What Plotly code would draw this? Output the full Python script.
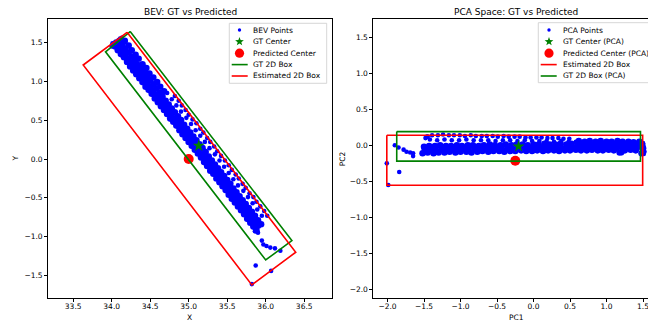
import math
import plotly.graph_objects as go

W, H = 648, 327

# ---------------- BEV data (X, Y) ----------------
bev_band1_x = [34.04,34.08,34.12,34.16,34.20,34.24,34.28,34.32,34.36,34.40,34.44,34.48,34.52,34.56,34.60,34.64,34.68,34.72,34.76,34.80,34.84,34.88,34.92,34.96,35.00,35.04,35.08,35.12,35.16,35.20,35.24,35.28,35.32,35.36,35.40,35.44,35.48,35.52,35.56,35.60,35.64,35.68,35.72,35.76,35.80,35.84,35.88]
bev_band1_y = [1.45,1.40,1.35,1.31,1.25,1.19,1.14,1.09,1.04,0.99,0.93,0.89,0.84,0.78,0.73,0.68,0.63,0.58,0.52,0.48,0.43,0.37,0.32,0.27,0.22,0.17,0.12,0.07,0.02,-0.04,-0.09,-0.15,-0.19,-0.25,-0.30,-0.35,-0.40,-0.46,-0.51,-0.56,-0.61,-0.66,-0.71,-0.77,-0.82,-0.87,-0.92]
bev_band2_x = [34.06,34.10,34.14,34.18,34.22,34.26,34.30,34.34,34.38,34.42,34.46,34.50,34.54,34.58,34.62,34.66,34.70,34.74,34.78,34.82,34.86,34.90,34.94,34.98,35.02,35.06,35.10,35.14,35.18,35.22,35.26,35.30,35.34,35.38,35.42,35.46,35.50,35.54,35.58,35.62,35.66,35.70,35.74,35.78,35.82,35.86,35.90]
bev_band2_y = [1.50,1.45,1.40,1.34,1.29,1.24,1.19,1.14,1.09,1.04,0.99,0.93,0.88,0.83,0.78,0.73,0.68,0.63,0.58,0.52,0.47,0.42,0.37,0.32,0.27,0.22,0.17,0.12,0.06,0.01,-0.04,-0.09,-0.14,-0.19,-0.24,-0.30,-0.35,-0.40,-0.45,-0.50,-0.55,-0.60,-0.65,-0.71,-0.76,-0.81,-0.86]
bev_band3_x = [34.10,34.14,34.18,34.22,34.26,34.30,34.34,34.38,34.42,34.46,34.50,34.54,34.58,34.62,34.66,34.70,34.74,34.78,34.82,34.86,34.90,34.94,34.98,35.02,35.06,35.10,35.14,35.18,35.22,35.26,35.30,35.34,35.38,35.42,35.46,35.50,35.54,35.58,35.62,35.66,35.70,35.74,35.78,35.82,35.86,35.90,35.94]
bev_band3_y = [1.52,1.47,1.42,1.37,1.32,1.26,1.21,1.16,1.11,1.06,1.01,0.96,0.91,0.85,0.80,0.75,0.70,0.65,0.60,0.55,0.50,0.44,0.39,0.34,0.29,0.24,0.19,0.14,0.09,0.03,-0.02,-0.07,-0.12,-0.17,-0.22,-0.27,-0.32,-0.38,-0.43,-0.48,-0.53,-0.58,-0.63,-0.68,-0.73,-0.79,-0.84]
bev_upper_x = [34.68,34.63,34.59,34.54,34.49,34.45,34.40,34.35,34.31,34.26,34.22,34.17]
bev_upper_y = [0.87,0.93,0.99,1.05,1.10,1.17,1.22,1.29,1.34,1.40,1.46,1.52]
bev_ring_x = [35.95,35.89,35.83,35.77,35.71,35.64,35.58,35.52,35.46,35.40,35.34,35.27,35.21,35.15,35.09,35.03,34.97,34.90,34.84,34.78,34.72]
bev_ring_y = [-0.73,-0.65,-0.57,-0.49,-0.41,-0.34,-0.26,-0.18,-0.10,-0.02,0.06,0.14,0.22,0.30,0.37,0.45,0.53,0.61,0.69,0.77,0.85]
bev_top_x = [36.02,35.98,35.93,35.88,35.84,35.79,35.74,35.70,35.65,35.61,35.56,35.52,35.47,35.42,35.37,35.33,35.28,35.24,35.19,35.15,35.10,35.05,35.00,34.96,34.91,34.87,34.82]
bev_top_y = [-0.73,-0.67,-0.61,-0.55,-0.49,-0.44,-0.37,-0.32,-0.25,-0.20,-0.14,-0.08,-0.02,0.04,0.10,0.16,0.22,0.27,0.34,0.39,0.46,0.51,0.57,0.63,0.69,0.75,0.81]
bev_outlier_x = [35.95,35.97,36.01,36.06,36.12,36.19,35.87,36.07,35.82,34.00,34.01,34.11,34.13,35.86,35.90]
bev_outlier_y = [-1.05,-1.10,-1.12,-1.14,-1.15,-1.18,-1.37,-1.44,-1.61,1.45,1.49,1.55,1.56,-0.93,-0.95]

bev_gt_center = (35.13, 0.17)
bev_pred_center = (35.00, 0.00)
bev_gt_box_x = [34.24, 36.34, 36.00, 33.92, 34.24]
bev_gt_box_y = [1.64, -1.05, -1.30, 1.38, 1.64]
bev_est_box_x = [34.20, 36.39, 35.82, 33.63, 34.20]
bev_est_box_y = [1.63, -1.20, -1.62, 1.21, 1.63]

# ---------------- PCA data (PC1, PC2) ----------------
pca_band1_x = [-1.52,-1.45,-1.37,-1.30,-1.22,-1.15,-1.07,-1.00,-0.92,-0.85,-0.77,-0.70,-0.62,-0.55,-0.47,-0.40,-0.32,-0.25,-0.17,-0.10,-0.02,0.05,0.13,0.20,0.28,0.35,0.43,0.50,0.58,0.65,0.73,0.80,0.88,0.95,1.03,1.10,1.18,1.25,1.33,1.40,1.48]
pca_band1_y = [-0.11,-0.10,-0.11,-0.10,-0.10,-0.09,-0.10,-0.09,-0.09,-0.10,-0.09,-0.08,-0.09,-0.08,-0.08,-0.09,-0.08,-0.08,-0.07,-0.08,-0.08,-0.07,-0.08,-0.07,-0.07,-0.08,-0.07,-0.07,-0.06,-0.07,-0.07,-0.06,-0.07,-0.07,-0.06,-0.07,-0.10,-0.07,-0.06,-0.07,-0.11]
pca_band2_x = [-1.49,-1.41,-1.34,-1.26,-1.19,-1.11,-1.04,-0.96,-0.89,-0.81,-0.74,-0.66,-0.59,-0.51,-0.44,-0.36,-0.29,-0.21,-0.14,-0.06,0.01,0.09,0.16,0.24,0.31,0.39,0.46,0.54,0.61,0.69,0.76,0.84,0.91,0.99,1.06,1.14,1.21,1.29,1.36,1.44,1.50]
pca_band2_y = [-0.06,-0.05,-0.06,-0.05,-0.05,-0.06,-0.05,-0.05,-0.04,-0.05,-0.05,-0.04,-0.05,-0.04,-0.04,-0.05,-0.04,-0.04,-0.03,-0.04,-0.04,-0.03,-0.04,-0.03,-0.03,-0.04,-0.03,-0.03,-0.02,-0.03,-0.03,-0.02,-0.03,-0.03,-0.02,-0.03,-0.03,-0.02,-0.03,-0.02,-0.04]
pca_band3_x = [-1.50,-1.43,-1.35,-1.28,-1.20,-1.13,-1.05,-0.98,-0.90,-0.83,-0.75,-0.68,-0.60,-0.53,-0.45,-0.38,-0.30,-0.23,-0.15,-0.08,0.00,0.07,0.15,0.22,0.30,0.37,0.45,0.52,0.60,0.67,0.75,0.82,0.90,0.97,1.05,1.12,1.20,1.27,1.35,1.42,1.49]
pca_band3_y = [-0.02,-0.01,-0.01,0.00,-0.01,-0.01,0.00,-0.01,0.00,0.00,-0.01,0.00,0.01,0.00,0.00,0.01,0.00,0.01,0.01,0.00,0.01,0.01,0.02,0.01,0.01,0.02,0.01,0.02,0.02,0.01,0.02,0.01,0.02,0.02,0.01,0.02,0.01,0.02,0.01,0.02,0.00]
pca_upper_x = [0.62,0.70,0.77,0.85,0.92,1.00,1.07,1.15,1.22,1.30,1.37,1.45]
pca_upper_y = [0.06,0.05,0.06,0.05,0.06,0.05,0.05,0.06,0.05,0.05,0.04,0.05]
pca_ring_x = [-1.42,-1.32,-1.22,-1.12,-1.02,-0.92,-0.82,-0.72,-0.62,-0.52,-0.42,-0.32,-0.22,-0.12,-0.02,0.08,0.18,0.28,0.38,0.48,0.58]
pca_ring_y = [0.08,0.07,0.08,0.07,0.07,0.08,0.07,0.07,0.07,0.06,0.07,0.07,0.06,0.07,0.06,0.06,0.06,0.05,0.06,0.05,0.05]
pca_top_x = [-1.46,-1.39,-1.31,-1.24,-1.16,-1.09,-1.01,-0.94,-0.86,-0.79,-0.71,-0.64,-0.56,-0.49,-0.41,-0.34,-0.26,-0.19,-0.11,-0.04,0.04,0.11,0.19,0.26,0.34,0.41,0.49]
pca_top_y = [0.12,0.14,0.14,0.15,0.14,0.14,0.14,0.13,0.14,0.13,0.13,0.13,0.13,0.12,0.13,0.12,0.12,0.12,0.11,0.11,0.11,0.11,0.10,0.10,0.10,0.09,0.09]
pca_outlier_x = [-1.90,-1.85,-1.78,-1.74,-1.69,-1.65,-1.65,-2.01,-1.84,-1.99,1.51,1.52,1.50,-1.48,-1.45,1.21]
pca_outlier_y = [0.00,-0.03,-0.06,-0.09,-0.10,-0.11,-0.15,-0.25,-0.37,-0.55,-0.12,-0.09,0.03,0.10,0.12,-0.11]

pca_gt_center = (-0.205, -0.015)
pca_pred_center = (-0.25, -0.215)
pca_est_box_x = [-2.01, 1.495, 1.495, -2.01, -2.01]
pca_est_box_y = [0.14, 0.14, -0.555, -0.555, 0.14]
pca_gt_box_x = [-1.874, 1.465, 1.465, -1.874, -1.874]
pca_gt_box_y = [0.19, 0.19, -0.22, -0.22, 0.19]

# ---------------- ticks / text ----------------
bev_xticks = [33.5, 34.0, 34.5, 35.0, 35.5, 36.0, 36.5]
bev_xtext = ["33.5", "34.0", "34.5", "35.0", "35.5", "36.0", "36.5"]
bev_yticks = [-1.5, -1.0, -0.5, 0.0, 0.5, 1.0, 1.5]
bev_ytext = ["\u22121.5", "\u22121.0", "\u22120.5", "0.0", "0.5", "1.0", "1.5"]
pca_xticks = [-2.0, -1.5, -1.0, -0.5, 0.0, 0.5, 1.0, 1.5]
pca_xtext = ["\u22122.0", "\u22121.5", "\u22121.0", "\u22120.5", "0.0", "0.5", "1.0", "1.5"]
pca_yticks = [-2.0, -1.5, -1.0, -0.5, 0.0, 0.5, 1.0, 1.5]
pca_ytext = ["\u22122.0", "\u22121.5", "\u22121.0", "\u22120.5", "0.0", "0.5", "1.0", "1.5"]

bev_legend_labels = ["BEV Points", "GT Center", "Predicted Center", "GT 2D Box", "Estimated 2D Box"]
pca_legend_labels = ["PCA Points", "GT Center (PCA)", "Predicted Center (PCA)", "Estimated 2D Box", "GT 2D Box (PCA)"]

BLUE, GREEN, RED = "#0000ff", "#008000", "#ff0000"
FONT = "DejaVu Sans"


def fx(p):
    return p / W


def fy(p):
    return 1 - p / H


fig = go.Figure()


def add_points(xs, ys, size, xa, ya):
    fig.add_trace(go.Scatter(x=xs, y=ys, mode="markers", xaxis=xa, yaxis=ya,
                             marker=dict(color=BLUE, size=size, line=dict(width=0)),
                             showlegend=False, hoverinfo="skip"))


def add_rest(gtc, prc, boxes, xa, ya):
    fig.add_trace(go.Scatter(x=[gtc[0]], y=[gtc[1]], mode="markers", xaxis=xa, yaxis=ya,
                             marker=dict(color=GREEN, size=9, symbol="star", line=dict(width=0)),
                             showlegend=False, hoverinfo="skip"))
    fig.add_trace(go.Scatter(x=[prc[0]], y=[prc[1]], mode="markers", xaxis=xa, yaxis=ya,
                             marker=dict(color=RED, size=10, line=dict(width=0)),
                             showlegend=False, hoverinfo="skip"))
    for bx, by, col in boxes:
        fig.add_trace(go.Scatter(x=bx, y=by, mode="lines", xaxis=xa, yaxis=ya,
                                 line=dict(color=col, width=1.6),
                                 showlegend=False, hoverinfo="skip"))


# BEV panel: dense band rows drawn with slightly larger dots, sparse rows with the plain dot size
add_points(bev_band1_x + bev_band2_x + bev_band3_x + bev_upper_x,
           bev_band1_y + bev_band2_y + bev_band3_y + bev_upper_y, 6.6, "x", "y")
add_points(bev_ring_x + bev_top_x + bev_outlier_x,
           bev_ring_y + bev_top_y + bev_outlier_y, 4.6, "x", "y")
add_rest(bev_gt_center, bev_pred_center,
         [(bev_gt_box_x, bev_gt_box_y, GREEN), (bev_est_box_x, bev_est_box_y, RED)], "x", "y")

# PCA panel
add_points(pca_band1_x + pca_band2_x + pca_band3_x + pca_upper_x,
           pca_band1_y + pca_band2_y + pca_band3_y + pca_upper_y, 6.6, "x2", "y2")
add_points(pca_ring_x + pca_top_x + pca_outlier_x,
           pca_ring_y + pca_top_y + pca_outlier_y, 4.6, "x2", "y2")
add_rest(pca_gt_center, pca_pred_center,
         [(pca_est_box_x, pca_est_box_y, RED), (pca_gt_box_x, pca_gt_box_y, GREEN)], "x2", "y2")

axis_common = dict(showgrid=False, zeroline=False, showline=True, linecolor="black", linewidth=0.8,
                   ticks="outside", ticklen=3, tickwidth=0.8, tickcolor="black",
                   tickfont=dict(family=FONT, size=7.5, color="black"), tickmode="array",
                   ticklabeloverflow="allow")

ydom = [fy(298), fy(19)]
fig.update_layout(
    width=W, height=H, margin=dict(l=0, r=0, t=0, b=0),
    paper_bgcolor="white", plot_bgcolor="white", showlegend=False,
    font=dict(family=FONT, color="black"),
    xaxis=dict(domain=[fx(48), fx(331.7)], range=[33.173, 36.857], mirror=True,
               tickvals=bev_xticks, ticktext=bev_xtext, anchor="y", ticklabelstandoff=-2, **axis_common),
    yaxis=dict(domain=ydom, range=[-1.789, 1.802], mirror=True,
               tickvals=bev_yticks, ticktext=bev_ytext, anchor="x", **axis_common),
    xaxis2=dict(domain=[fx(373.3), 1.0], range=[-2.195, 1.568], mirror=True,
                tickvals=pca_xticks, ticktext=pca_xtext, anchor="y2", ticklabelstandoff=-2, **axis_common),
    yaxis2=dict(domain=ydom, range=[-2.118, 1.752], mirror=False,
                tickvals=pca_yticks, ticktext=pca_ytext, anchor="x2", **axis_common),
)

annotations = []
shapes = []


def text(x, y, s, size, xanchor="center", angle=0):
    annotations.append(dict(x=fx(x), y=fy(y), xref="paper", yref="paper", text=s, showarrow=False,
                            xanchor=xanchor, yanchor="middle", textangle=angle,
                            font=dict(family=FONT, size=size, color="black")))


# titles and axis labels
text(190, 11.7, "BEV: GT vs Predicted", 9)
text(515.5, 11.7, "PCA Space: GT vs Predicted", 9)
text(189, 317, "X", 7.5)
text(516, 317, "PC1", 7.5)
text(15, 158.5, "Y", 7.5, angle=-90)
text(342.7, 158.5, "PC2", 7.5, angle=-90)


def star_path(R, r):
    pts = []
    for i in range(10):
        a = math.pi / 2 + i * math.pi / 5
        rad = R if i % 2 == 0 else r
        pts.append((rad * math.cos(a), rad * math.sin(a)))
    return "M " + " L ".join(f"{x:.2f},{y:.2f}" for x, y in pts) + " Z"


def glyph_circle(cx, cy, r, col):
    shapes.append(dict(type="circle", xref="paper", yref="paper", xsizemode="pixel", ysizemode="pixel",
                       xanchor=fx(cx), yanchor=fy(cy), x0=-r, x1=r, y0=-r, y1=r,
                       fillcolor=col, line=dict(width=0)))


def glyph_star(cx, cy, col):
    shapes.append(dict(type="path", xref="paper", yref="paper", xsizemode="pixel", ysizemode="pixel",
                       xanchor=fx(cx), yanchor=fy(cy), path=star_path(4.6, 1.9),
                       fillcolor=col, line=dict(width=0)))


def glyph_line(x0, x1, y, col):
    shapes.append(dict(type="line", xref="paper", yref="paper", x0=fx(x0), x1=fx(x1), y0=fy(y), y1=fy(y),
                       line=dict(color=col, width=1.6)))


def legend(box, gx, lx0, lx1, tx, labels, kinds):
    bx0, by0, bx1, by1 = box
    shapes.append(dict(type="rect", xref="paper", yref="paper", x0=fx(bx0), x1=fx(bx1), y0=fy(by1), y1=fy(by0),
                       fillcolor="rgba(255,255,255,0.8)", line=dict(color="#cccccc", width=0.8)))
    rows = [30, 41.6, 53.2, 64.6, 76.0]
    for ry, lab, kind in zip(rows, labels, kinds):
        if kind == "dot":
            glyph_circle(gx, ry, 1.7, BLUE)
        elif kind == "star":
            glyph_star(gx, ry, GREEN)
        elif kind == "big":
            glyph_circle(gx, ry, 4.6, RED)
        elif kind == "g":
            glyph_line(lx0, lx1, ry, GREEN)
        elif kind == "r":
            glyph_line(lx0, lx1, ry, RED)
        text(tx - 1.5, ry, lab, 7.5, xanchor="left")


legend((229.3, 23.3, 326.7, 83.3), 239.5, 231.7, 247.7, 252.7, bev_legend_labels,
       ["dot", "star", "big", "g", "r"])
legend((538.3, 22.7, 672, 82.7), 549, 540.7, 556.7, 562.3, pca_legend_labels,
       ["dot", "star", "big", "r", "g"])

fig.update_layout(annotations=annotations, shapes=shapes)
fig.write_html("out.html")
